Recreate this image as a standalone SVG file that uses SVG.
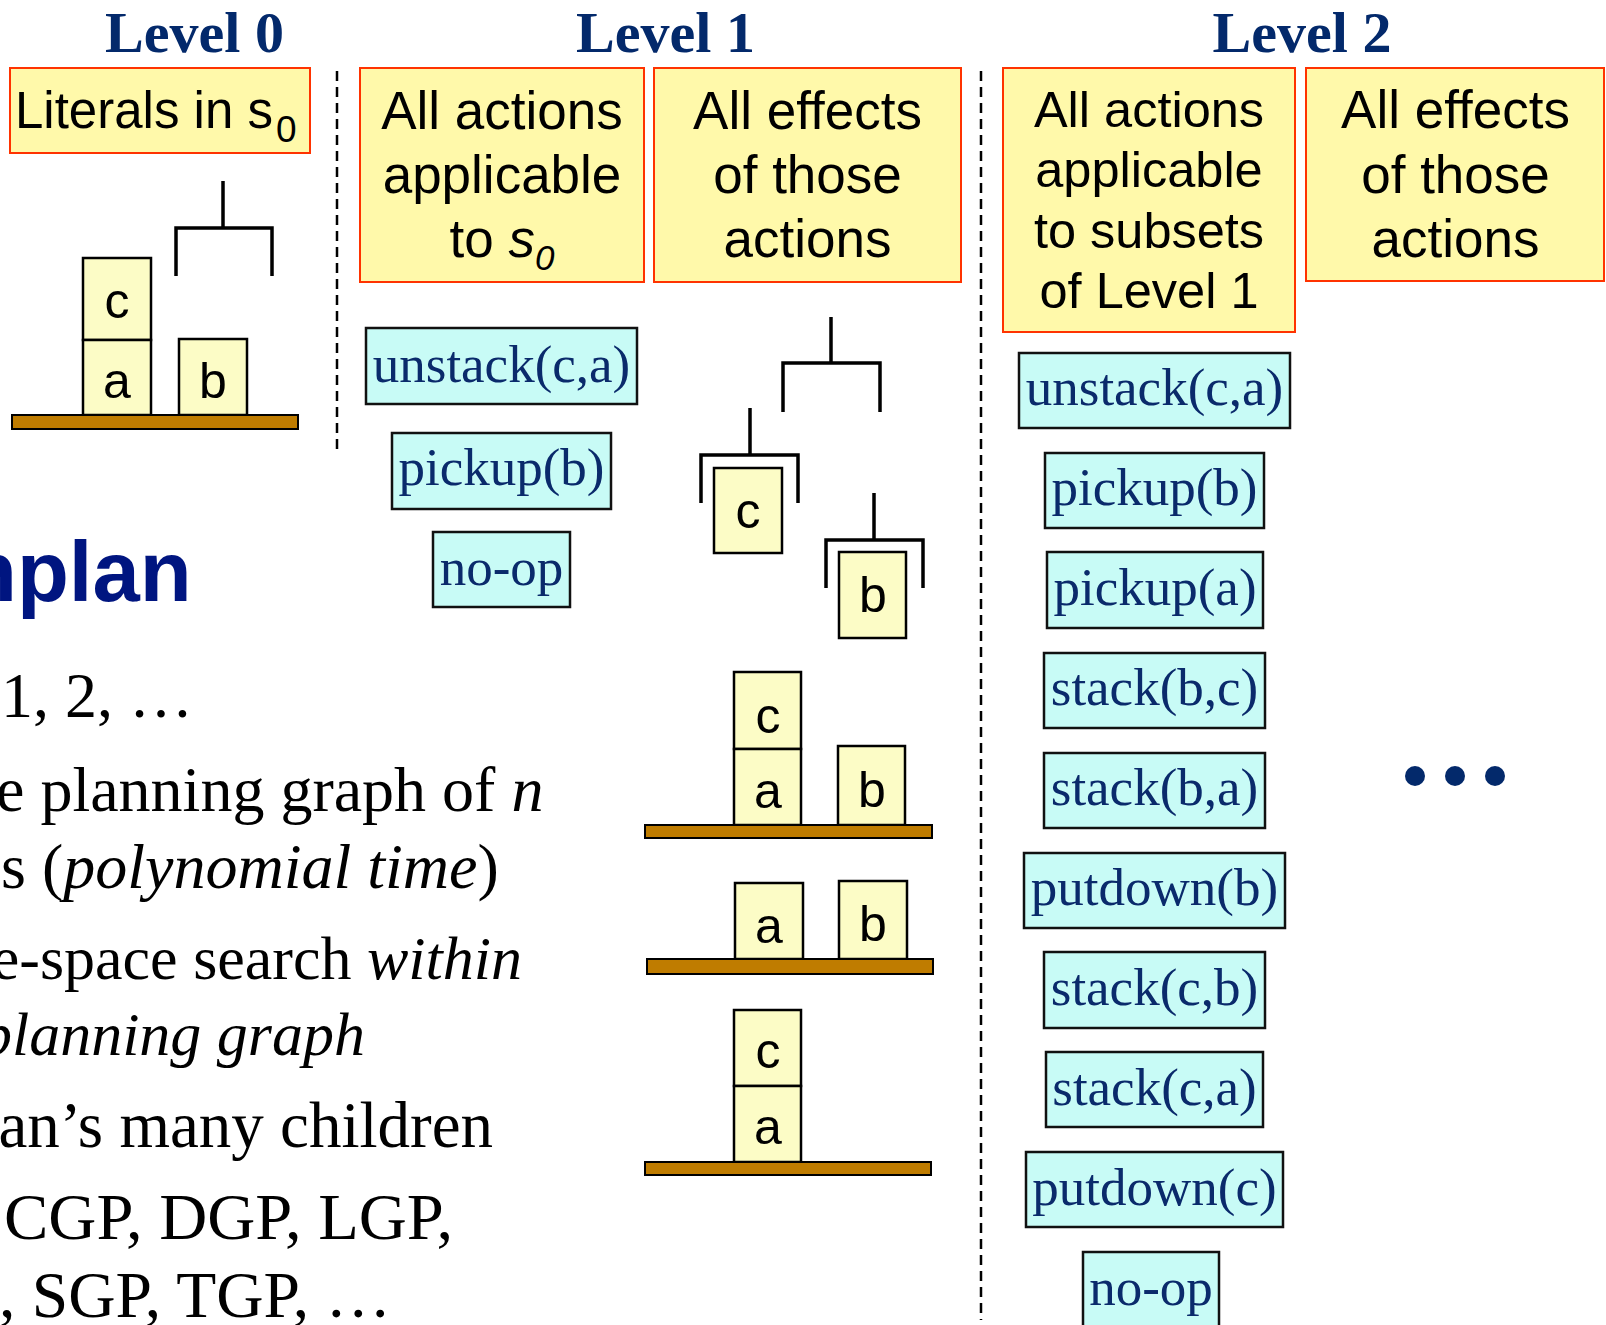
<svg xmlns="http://www.w3.org/2000/svg" width="1606" height="1325" viewBox="0 0 1606 1325">
<style>
  .title { font-family: "Liberation Serif", "Times New Roman", serif; font-weight: bold; font-size: 58px; fill: #03296b; text-anchor: middle; }
  .hdr rect { fill: #fff9aa; stroke: #ff3300; stroke-width: 2; }
  .hdr text { font-family: "Liberation Sans", Arial, sans-serif; font-size: 53px; fill: #000; text-anchor: middle; }
  .act rect { fill: #c8fbf6; stroke: #111; stroke-width: 2.5; }
  .act text { font-family: "Liberation Serif", "Times New Roman", serif; font-size: 53px; fill: #0a2a6b; text-anchor: middle; }
  .blk { fill: #fcfcc6; stroke: #000; stroke-width: 2.5; }
  .lbl { font-family: "Liberation Sans", Arial, sans-serif; font-size: 50px; fill: #000; text-anchor: middle; }
  .table { fill: #bf7c00; stroke: #000; stroke-width: 2; }
  .grip { fill: none; stroke: #000; stroke-width: 3.5; }
  .sep { fill: none; stroke: #000; stroke-width: 2.5; stroke-dasharray: 10 6; }
  .body { font-family: "Liberation Serif", "Times New Roman", serif; font-size: 64px; fill: #000; }
  .it { font-style: italic; }
</style>

<!-- level titles -->
<g id="titles">
  <text class="title" x="194.5" y="52">Level 0</text>
  <text class="title" x="665.5" y="52">Level 1</text>
  <text class="title" x="1302" y="52">Level 2</text>
</g>

<!-- column headers -->
<g id="hdr-literals" class="hdr">
  <rect x="10" y="68" width="300" height="85"/>
  <text x="15" y="128" style="text-anchor:start;font-size:51px">Literals in s<tspan dx="3" dy="14" style="font-size:37px">0</tspan></text>
</g>
<g id="hdr-actions-1" class="hdr">
  <rect x="360" y="68" width="284" height="214"/>
  <text x="502" y="129">All actions</text>
  <text x="502" y="193">applicable</text>
  <text x="502" y="257">to <tspan class="it">s</tspan><tspan class="it" dy="13" style="font-size:35px">0</tspan></text>
</g>
<g id="hdr-effects-1" class="hdr">
  <rect x="654" y="68" width="307" height="214"/>
  <text x="807.5" y="129">All effects</text>
  <text x="807.5" y="193">of those</text>
  <text x="807.5" y="257">actions</text>
</g>
<g id="hdr-actions-2" class="hdr">
  <rect x="1003" y="68" width="292" height="264"/>
  <text x="1149" y="127" style="font-size:50.5px">All actions</text>
  <text x="1149" y="187" style="font-size:50.5px">applicable</text>
  <text x="1149" y="248" style="font-size:50.5px">to subsets</text>
  <text x="1149" y="308" style="font-size:50.5px">of Level 1</text>
</g>
<g id="hdr-effects-2" class="hdr">
  <rect x="1306" y="68" width="298" height="213"/>
  <text x="1455.5" y="128">All effects</text>
  <text x="1455.5" y="193">of those</text>
  <text x="1455.5" y="257">actions</text>
</g>

<!-- level 0: initial state -->
<g id="state-0">
  <path class="grip" d="M223,181 V228 M176,276 V228 H272 V276"/>
  <rect class="blk" x="83" y="258" width="68" height="82"/>
  <rect class="blk" x="83" y="340" width="68" height="75"/>
  <rect class="blk" x="179" y="339" width="68" height="76"/>
  <rect class="table" x="12" y="415" width="286" height="14"/>
  <text class="lbl" x="117" y="318">c</text>
  <text class="lbl" x="117" y="398">a</text>
  <text class="lbl" x="213" y="398">b</text>
</g>

<!-- level 1: actions -->
<g id="a1-unstack-ca" class="act">
  <rect x="366" y="328" width="271" height="76"/>
  <text x="501.5" y="382">unstack(c,a)</text>
</g>
<g id="a1-pickup-b" class="act">
  <rect x="392" y="433" width="219" height="76"/>
  <text x="501.5" y="485">pickup(b)</text>
</g>
<g id="a1-noop" class="act">
  <rect x="433" y="532" width="137" height="75"/>
  <text x="501.5" y="585">no-op</text>
</g>

<!-- level 1: effects -->
<g id="e1-empty-hand">
  <path class="grip" d="M831,317 V363 M783,412 V363 H880 V412"/>
</g>
<g id="e1-holding-c">
  <path class="grip" d="M750,408 V455 M701,503 V455 H798 V503"/>
  <rect class="blk" x="714" y="468" width="68" height="85"/>
  <text class="lbl" x="748" y="528">c</text>
</g>
<g id="e1-holding-b">
  <path class="grip" d="M874,493 V540 M826,588 V540 H923 V588"/>
  <rect class="blk" x="839" y="552" width="67" height="86"/>
  <text class="lbl" x="873" y="612">b</text>
</g>
<g id="e1-state-cab">
  <rect class="blk" x="734" y="672" width="67" height="77"/>
  <rect class="blk" x="734" y="749" width="67" height="76"/>
  <rect class="blk" x="838" y="746" width="67" height="79"/>
  <rect class="table" x="645" y="825" width="287" height="13"/>
  <text class="lbl" x="768" y="733">c</text>
  <text class="lbl" x="768" y="808">a</text>
  <text class="lbl" x="872" y="807">b</text>
</g>
<g id="e1-state-ab">
  <rect class="blk" x="735" y="883" width="68" height="76"/>
  <rect class="blk" x="839" y="881" width="68" height="78"/>
  <rect class="table" x="647" y="959" width="286" height="15"/>
  <text class="lbl" x="769" y="943">a</text>
  <text class="lbl" x="873" y="941">b</text>
</g>
<g id="e1-state-ca">
  <rect class="blk" x="734" y="1010" width="67" height="76"/>
  <rect class="blk" x="734" y="1086" width="67" height="76"/>
  <rect class="table" x="645" y="1162" width="286" height="13"/>
  <text class="lbl" x="768" y="1068">c</text>
  <text class="lbl" x="768" y="1144">a</text>
</g>

<!-- level 2: actions -->
<g id="a2-unstack-ca" class="act">
  <rect x="1019" y="353" width="271" height="75"/>
  <text x="1154.5" y="405">unstack(c,a)</text>
</g>
<g id="a2-pickup-b" class="act">
  <rect x="1045" y="453" width="219" height="75"/>
  <text x="1154.5" y="505">pickup(b)</text>
</g>
<g id="a2-pickup-a" class="act">
  <rect x="1047" y="552" width="216" height="76"/>
  <text x="1155" y="605">pickup(a)</text>
</g>
<g id="a2-stack-bc" class="act">
  <rect x="1044" y="653" width="221" height="75"/>
  <text x="1154.5" y="705">stack(b,c)</text>
</g>
<g id="a2-stack-ba" class="act">
  <rect x="1044" y="753" width="221" height="75"/>
  <text x="1154.5" y="805">stack(b,a)</text>
</g>
<g id="a2-putdown-b" class="act">
  <rect x="1024" y="853" width="261" height="75"/>
  <text x="1154.5" y="905">putdown(b)</text>
</g>
<g id="a2-stack-cb" class="act">
  <rect x="1044" y="952" width="221" height="76"/>
  <text x="1154.5" y="1005">stack(c,b)</text>
</g>
<g id="a2-stack-ca" class="act">
  <rect x="1046" y="1052" width="217" height="75"/>
  <text x="1154.5" y="1105">stack(c,a)</text>
</g>
<g id="a2-putdown-c" class="act">
  <rect x="1026" y="1152" width="257" height="75"/>
  <text x="1154.5" y="1205">putdown(c)</text>
</g>
<g id="a2-noop" class="act">
  <rect x="1083" y="1252" width="136" height="80"/>
  <text x="1151" y="1305">no-op</text>
</g>

<!-- level 2: effects continue -->
<g id="e2-more" fill="#03296b">
  <circle cx="1415" cy="776" r="10"/>
  <circle cx="1455" cy="776" r="10"/>
  <circle cx="1495" cy="776" r="10"/>
</g>

<!-- dashed separators between levels -->
<g id="connectors">
  <line class="sep" x1="337" y1="71" x2="337" y2="453"/>
  <line class="sep" x1="981" y1="71" x2="981" y2="1320"/>
</g>

<!-- slide text on the left -->
<g id="slide-text">
  <text x="-35" y="601" style="font-family:'Liberation Sans',Arial,sans-serif;font-weight:bold;font-size:85px;fill:#001580">hplan</text>
  <text class="body" x="1" y="717">1, 2, …</text>
  <text class="body" x="-4" y="811">e planning graph of <tspan class="it">n</tspan></text>
  <text class="body" x="1" y="888">s (<tspan class="it">polynomial time</tspan>)</text>
  <text class="body" x="522" y="979" text-anchor="end" style="font-size:62px">e-space search <tspan class="it">within</tspan></text>
  <text class="body it" x="365" y="1055" text-anchor="end" style="font-size:62px">planning graph</text>
  <text class="body" x="493" y="1147" text-anchor="end" style="font-size:65px">an’s many children</text>
  <text class="body" x="4" y="1239" style="font-size:66.5px">CGP, DGP, LGP,</text>
  <text class="body" x="-1" y="1317" style="font-size:65.5px">, SGP, TGP, …</text>
</g>
</svg>
